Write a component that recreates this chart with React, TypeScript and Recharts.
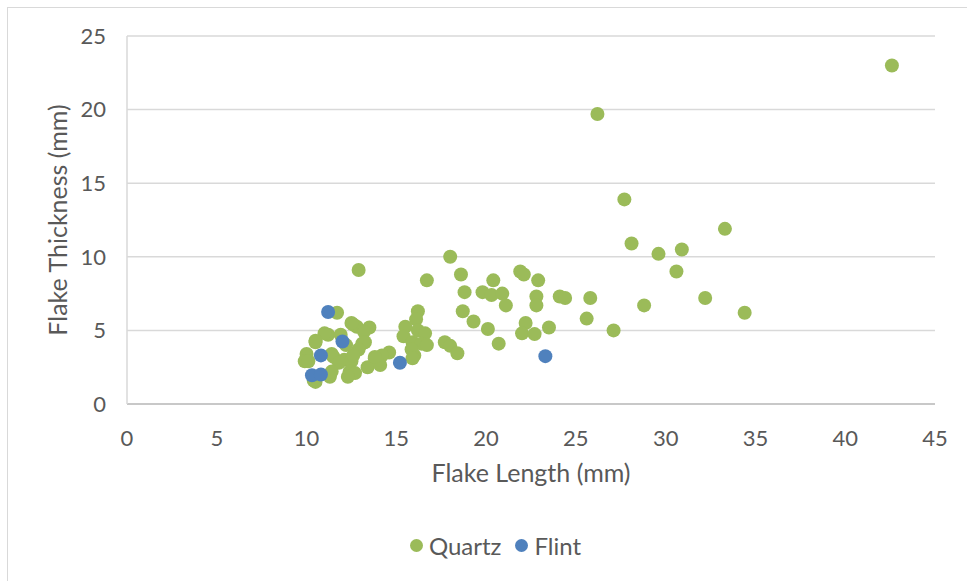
import React from 'react';
import {
  ScatterChart,
  Scatter,
  XAxis,
  YAxis,
  CartesianGrid,
  Legend,
} from 'recharts';

const xTicks = [0, 5, 10, 15, 20, 25, 30, 35, 40, 45];
const yTicks = [0, 5, 10, 15, 20, 25];

const quartz = [
  { x: 42.6, y: 23.0 }, { x: 26.2, y: 19.7 }, { x: 27.7, y: 13.9 }, { x: 28.1, y: 10.9 },
  { x: 33.3, y: 11.9 }, { x: 30.9, y: 10.5 }, { x: 29.6, y: 10.2 }, { x: 30.6, y: 9.0 },
  { x: 32.2, y: 7.2 }, { x: 34.4, y: 6.2 }, { x: 28.8, y: 6.7 }, { x: 27.1, y: 5.0 },
  { x: 25.8, y: 7.2 }, { x: 25.6, y: 5.8 }, { x: 24.1, y: 7.3 }, { x: 24.4, y: 7.2 },
  { x: 22.9, y: 8.4 }, { x: 22.8, y: 7.3 }, { x: 22.8, y: 6.7 }, { x: 21.9, y: 9.0 },
  { x: 22.1, y: 8.8 }, { x: 23.5, y: 5.2 }, { x: 22.2, y: 5.5 }, { x: 22.0, y: 4.8 },
  { x: 22.7, y: 4.75 }, { x: 20.4, y: 8.4 }, { x: 19.8, y: 7.6 }, { x: 20.3, y: 7.4 },
  { x: 20.9, y: 7.5 }, { x: 21.1, y: 6.7 }, { x: 19.3, y: 5.6 }, { x: 20.1, y: 5.1 },
  { x: 20.7, y: 4.1 }, { x: 18.0, y: 10.0 }, { x: 12.9, y: 9.1 }, { x: 16.7, y: 8.4 },
  { x: 18.6, y: 8.8 }, { x: 18.8, y: 7.6 }, { x: 18.7, y: 6.3 }, { x: 16.2, y: 6.3 },
  { x: 16.1, y: 5.75 }, { x: 15.5, y: 5.25 }, { x: 15.4, y: 4.6 }, { x: 16.2, y: 5.0 },
  { x: 16.6, y: 4.8 }, { x: 15.9, y: 4.2 }, { x: 16.4, y: 4.1 }, { x: 16.7, y: 4.0 },
  { x: 16.0, y: 3.3 }, { x: 15.85, y: 3.7 }, { x: 15.9, y: 3.1 }, { x: 17.7, y: 4.2 },
  { x: 18.0, y: 3.95 }, { x: 18.4, y: 3.45 }, { x: 14.6, y: 3.5 }, { x: 14.2, y: 3.3 },
  { x: 13.8, y: 3.1 }, { x: 13.4, y: 2.5 }, { x: 14.1, y: 2.65 }, { x: 13.8, y: 3.2 },
  { x: 13.1, y: 4.1 }, { x: 12.8, y: 5.25 }, { x: 13.5, y: 5.2 }, { x: 12.6, y: 5.4 },
  { x: 13.2, y: 4.9 }, { x: 12.5, y: 5.5 }, { x: 11.7, y: 6.2 }, { x: 11.2, y: 4.7 },
  { x: 11.0, y: 4.8 }, { x: 10.5, y: 4.3 }, { x: 10.5, y: 4.2 }, { x: 13.25, y: 4.2 },
  { x: 12.9, y: 3.7 }, { x: 10.0, y: 3.4 }, { x: 9.9, y: 2.9 }, { x: 10.1, y: 2.9 },
  { x: 11.5, y: 3.2 }, { x: 11.4, y: 3.4 }, { x: 12.1, y: 3.0 }, { x: 12.5, y: 2.9 },
  { x: 11.8, y: 2.8 }, { x: 12.4, y: 2.2 }, { x: 12.7, y: 2.1 }, { x: 12.3, y: 1.85 },
  { x: 10.4, y: 1.6 }, { x: 11.3, y: 1.85 }, { x: 11.4, y: 2.2 }, { x: 10.5, y: 1.5 },
  { x: 12.6, y: 3.3 }, { x: 12.2, y: 4.0 }, { x: 11.9, y: 4.7 },
];

const flint = [
  { x: 11.2, y: 6.25 }, { x: 12.0, y: 4.25 }, { x: 10.8, y: 3.3 }, { x: 10.3, y: 1.95 },
  { x: 10.8, y: 2.0 }, { x: 15.2, y: 2.8 }, { x: 23.3, y: 3.25 },
];

const GREEN = '#9BBB59';
const BLUE = '#4F81BD';
const TEXT = '#595959';
const FONT = 'Lato, sans-serif';

const dot = (color: string) => (props: any) => (
  <circle cx={props.cx} cy={props.cy} r={7} fill={color} />
);

// rotated y title, centred on the plot height
const yTitle = (props: any) => {
  const vb = props.viewBox;
  const cx = 57;
  const cy = vb.y + vb.height / 2;
  return (
    <text
      x={cx}
      y={cy}
      transform={`rotate(-90 ${cx} ${cy})`}
      textAnchor="middle"
      dominantBaseline="central"
      fill={TEXT}
      fontSize={25}
      fontFamily={FONT}
    >
      Flake Thickness (mm)
    </text>
  );
};

const renderLegend = () => (
  <div
    style={{
      height: 26,
      display: 'flex',
      justifyContent: 'center',
      alignItems: 'center',
      fontFamily: FONT,
      fontSize: 24,
      color: TEXT,
      paddingLeft: 56,
    }}
  >
    {[
      { name: 'Quartz', color: GREEN },
      { name: 'Flint', color: BLUE },
    ].map((item) => (
      <span key={item.name} style={{ display: 'flex', alignItems: 'center', margin: '0 7px' }}>
        <svg width={13} height={13} style={{ marginRight: 6 }}>
          <circle cx={6.5} cy={6.5} r={6.5} fill={item.color} />
        </svg>
        {item.name}
      </span>
    ))}
  </div>
);

export default function App() {
  return (
    <div style={{ position: 'relative', width: 967, height: 581, overflow: 'hidden', background: '#fff' }}>
      <style>{'body{margin:0;overflow:hidden}'}</style>
      <div
        style={{
          position: 'absolute',
          left: 7,
          top: 7,
          width: 1000,
          height: 700,
          border: '1px solid #d9d9d9',
        }}
      />
      <div style={{ position: 'absolute', left: 0, top: 0 }}>
        <ScatterChart width={967} height={581} margin={{ top: 36, right: 32, bottom: 23, left: 0 }}>
          <CartesianGrid horizontal vertical={false} stroke="#d9d9d9" strokeWidth={1.5} />
          <XAxis
            type="number"
            dataKey="x"
            domain={[0, 45]}
            ticks={xTicks}
            interval={0}
            height={128}
            axisLine={{ stroke: '#bfbfbf', strokeWidth: 1.5 }}
            tickLine={false}
            tickSize={0}
            tickMargin={26}
            tick={{ fill: TEXT, fontSize: 22, fontFamily: FONT }}
            label={{
              value: 'Flake Length (mm)',
              position: 'insideTop',
              offset: 60,
              fill: TEXT,
              fontSize: 25,
              fontFamily: FONT,
            }}
          />
          <YAxis
            type="number"
            dataKey="y"
            domain={[0, 25]}
            ticks={yTicks}
            interval={0}
            width={127}
            axisLine={{ stroke: '#d9d9d9', strokeWidth: 1.5 }}
            tickLine={false}
            tickSize={0}
            tickMargin={21}
            tick={{ fill: TEXT, fontSize: 22, fontFamily: FONT }}
            label={yTitle}
          />
          <Legend verticalAlign="bottom" content={renderLegend} />
          <Scatter name="Quartz" data={quartz} fill={GREEN} shape={dot(GREEN)} isAnimationActive={false} />
          <Scatter name="Flint" data={flint} fill={BLUE} shape={dot(BLUE)} isAnimationActive={false} />
        </ScatterChart>
      </div>
    </div>
  );
}
